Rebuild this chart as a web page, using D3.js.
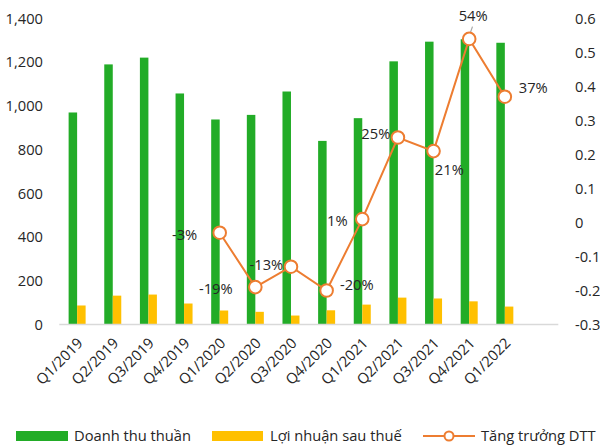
<!DOCTYPE html>
<html>
<head>
    <meta charset="utf-8">
    <script src="https://cdn.jsdelivr.net/npm/d3@7/dist/d3.min.js"></script>
    <style>
        body { margin: 0; background: #fff; }
        text { font-family: "Segoe UI", "Open Sans", sans-serif; fill: #262626; }
    </style>
</head>
<body>
    <svg width="600" height="447" id="mainsvg"></svg>
    <script>
        // data
        const quarters = ['Q1/2019', 'Q2/2019', 'Q3/2019', 'Q4/2019', 'Q1/2020', 'Q2/2020', 'Q3/2020',
            'Q4/2020', 'Q1/2021', 'Q2/2021', 'Q3/2021', 'Q4/2021', 'Q1/2022'];
        const revenue = [970, 1190, 1221, 1057, 938, 959, 1066, 840, 944, 1204, 1294, 1305, 1289];
        const profit = [87, 132, 137, 96, 64, 58, 41, 65, 91, 123, 119, 106, 82];
        const growth = [null, null, null, null, -0.03, -0.19, -0.13, -0.20, 0.01, 0.25, 0.21, 0.54, 0.37];
        const leftTicks = [0, 200, 400, 600, 800, 1000, 1200, 1400];
        const rightTicks = [-0.3, -0.2, -0.1, 0, 0.1, 0.2, 0.3, 0.4, 0.5, 0.6];
        const seriesNames = ['Doanh thu thuần', 'Lợi nhuận sau thuế', 'Tăng trưởng DTT'];

        const green = '#22ac27', yellow = '#ffc000', orange = '#ed7d31';
        const fs = 14.7;

        // label placement for the growth line [anchor, dx, dy]
        const labelPos = [null, null, null, null,
            ['end', -22.5, 2], ['end', -22.7, 2], ['end', -7.7, -1.7], ['start', 13.3, -6],
            ['end', -14.6, 1.6], ['end', -7.6, -3.4], ['middle', 15.8, 18.3], ['middle', 4, -23.3],
            ['start', 14, -9]];

        const svg = d3.select('#mainsvg');
        const plotLeft = 59.3, plotRight = 558.3, yTop = 18.5, yBottom = 324.5;
        const step = (plotRight - plotLeft) / 14;

        const xScale = d3.scaleBand()
            .domain(quarters)
            .range([plotLeft, plotLeft + step * quarters.length])
            .paddingInner(0.523)
            .paddingOuter(0.2615);
        const subScale = d3.scaleBand().domain(['rev', 'pro']).range([0, xScale.bandwidth()]);
        const yLeft = d3.scaleLinear().domain([0, 1400]).range([yBottom, yTop]);
        const yRight = d3.scaleLinear().domain([-0.3, 0.6]).range([yBottom, yTop]);
        const cx = d => xScale(d) + xScale.bandwidth() / 2;

        // plain hyphen for negatives, like the original
        const hyph = s => s.replace('\u2212', '-');
        const fmtLeft = d3.format(',');
        const fmtRight = d => d === 0 ? '0' : hyph(d3.format('.1f')(d));
        const fmtPct = d => hyph(d3.format('.0f')(d * 100)) + '%';

        // axis labels
        svg.append('g').selectAll('text').data(leftTicks).join('text')
            .attr('x', 43).attr('y', d => yLeft(d)).attr('dy', '0.35em')
            .attr('text-anchor', 'end').attr('font-size', fs)
            .text(fmtLeft);
        svg.append('g').selectAll('text').data(rightTicks).join('text')
            .attr('x', 575).attr('y', d => yRight(d)).attr('dy', '0.35em')
            .attr('text-anchor', 'start').attr('font-size', fs)
            .text(fmtRight);

        // bars
        svg.append('g').selectAll('rect').data(quarters).join('rect')
            .attr('x', d => xScale(d) + subScale('rev'))
            .attr('y', (d, i) => yLeft(revenue[i]))
            .attr('width', subScale.bandwidth())
            .attr('height', (d, i) => yBottom - yLeft(revenue[i]))
            .attr('fill', green);
        svg.append('g').selectAll('rect').data(quarters).join('rect')
            .attr('x', d => xScale(d) + subScale('pro'))
            .attr('y', (d, i) => yLeft(profit[i]))
            .attr('width', subScale.bandwidth())
            .attr('height', (d, i) => yBottom - yLeft(profit[i]))
            .attr('fill', yellow);

        // baseline
        svg.append('line')
            .attr('x1', plotLeft).attr('x2', plotRight)
            .attr('y1', yBottom).attr('y2', yBottom)
            .attr('stroke', '#d9d9d9').attr('stroke-width', 1.5);

        // x labels
        svg.append('g').selectAll('text').data(quarters).join('text')
            .attr('transform', d => `translate(${cx(d) + 3}, ${yBottom + 16}) rotate(-45)`)
            .attr('text-anchor', 'end').attr('dy', '0.35em').attr('font-size', fs)
            .text(d => d);

        // growth line
        const pts = quarters.map((q, i) => ({ q, v: growth[i], i })).filter(d => d.v !== null);
        const line = d3.line().x(d => cx(d.q)).y(d => yRight(d.v));
        svg.append('path').datum(pts)
            .attr('d', line).attr('fill', 'none')
            .attr('stroke', orange).attr('stroke-width', 2);

        // leader line for 54%
        const peak = pts.find(d => d.v === d3.max(growth));
        svg.append('line')
            .attr('x1', cx(peak.q) - 0.7).attr('y1', yRight(peak.v) - 1)
            .attr('x2', cx(peak.q) + 3.3).attr('y2', yRight(peak.v) - 12.3)
            .attr('stroke', '#a6a6a6').attr('stroke-width', 1.2);

        svg.append('g').selectAll('circle').data(pts).join('circle')
            .attr('cx', d => cx(d.q)).attr('cy', d => yRight(d.v)).attr('r', 6.3)
            .attr('fill', '#fff').attr('stroke', orange).attr('stroke-width', 2);

        svg.append('g').selectAll('text').data(pts).join('text')
            .attr('x', d => cx(d.q) + labelPos[d.i][1])
            .attr('y', d => yRight(d.v) + labelPos[d.i][2])
            .attr('dy', '0.35em')
            .attr('text-anchor', d => labelPos[d.i][0])
            .attr('font-size', fs)
            .text(d => fmtPct(d.v));

        // legend
        const lg = svg.append('g').attr('transform', 'translate(0, 436)');
        lg.append('rect').attr('x', 16).attr('y', -5).attr('width', 52).attr('height', 10).attr('fill', green);
        lg.append('text').attr('x', 74).attr('dy', '0.35em').attr('font-size', fs).text(seriesNames[0]);
        lg.append('rect').attr('x', 212).attr('y', -5).attr('width', 51).attr('height', 10).attr('fill', yellow);
        lg.append('text').attr('x', 270).attr('dy', '0.35em').attr('font-size', fs).text(seriesNames[1]);
        lg.append('line').attr('x1', 423).attr('x2', 475).attr('stroke', orange).attr('stroke-width', 2);
        lg.append('circle').attr('cx', 449).attr('r', 4.5).attr('fill', '#fff').attr('stroke', orange).attr('stroke-width', 2);
        lg.append('text').attr('x', 481).attr('dy', '0.35em').attr('font-size', fs).text(seriesNames[2]);
    </script>
</body>
</html>
